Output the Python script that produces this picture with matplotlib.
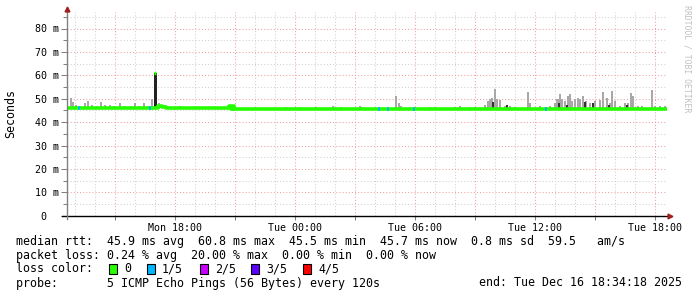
import matplotlib
matplotlib.use('Agg')
import matplotlib.pyplot as plt
from matplotlib.lines import Line2D

# time axis in hours after Mon 12:36 (left edge of the graph)
tick_hours = [5.4, 11.4, 17.4, 23.4, 29.4]
tick_labels = ['Mon 18:00', 'Tue 00:00', 'Tue 06:00', 'Tue 12:00', 'Tue 18:00']

# median rtt (ms), step curve
median_hours = [0.0, 4.35, 4.55, 4.75, 4.95, 8.10, 8.20, 8.28, 8.36, 10.0, 30.0]
median_ms = [46.1, 46.0, 47.0, 46.4, 45.9, 46.9, 45.8, 46.9, 45.8, 45.7, 45.7]

# spike of the median
spike_hour = 4.42
spike_ms = 60.8

# smoke: highest ping per interval (ms)
smoke_hours = [0.20, 0.30, 0.45, 0.65, 0.90, 1.05, 1.25, 1.50, 1.70, 1.90,
               2.15, 2.35, 2.65, 2.90, 3.20, 3.40, 3.60, 3.85, 4.05, 4.25,
               4.60, 4.90, 5.65, 6.15, 8.15, 10.95, 11.65, 12.45, 13.30, 13.70,
               14.65, 14.75, 15.60, 16.45, 16.60, 16.70, 17.15, 18.15, 18.40, 19.35,
               19.65, 20.15, 20.40, 20.90, 21.05, 21.15, 21.25, 21.40, 21.50, 21.65,
               21.90, 22.15, 22.40, 23.05, 23.15, 23.65, 23.90, 24.15, 24.40, 24.50,
               24.55, 24.65, 24.75, 24.90, 25.05, 25.15, 25.25, 25.40, 25.55, 25.65,
               25.80, 25.95, 26.15, 26.40, 26.65, 26.80, 27.00, 27.15, 27.25, 27.40,
               27.65, 27.90, 28.05, 28.20, 28.30, 28.55, 28.75, 29.25, 29.40, 29.65,
               29.90]
smoke_top = [50.5, 48.5, 47.5, 47.0, 48.0, 49.0, 47.5, 47.0, 48.5, 47.5,
             47.5, 47.0, 48.0, 47.0, 47.0, 48.0, 47.0, 48.0, 47.0, 50.0,
             48.0, 47.5, 47.0, 46.5, 47.5, 46.5, 46.5, 46.5, 47.0, 46.5,
             47.0, 46.5, 46.5, 51.0, 48.0, 47.0, 46.5, 46.5, 46.5, 46.5,
             47.0, 46.5, 46.5, 47.5, 49.0, 50.0, 50.5, 54.0, 50.0, 49.5,
             47.0, 47.0, 46.5, 53.0, 48.0, 47.0, 46.5, 47.0, 48.0, 50.0,
             50.0, 52.0, 50.0, 49.0, 51.0, 52.0, 49.0, 50.0, 50.5, 50.0,
             51.0, 49.0, 48.0, 49.0, 49.5, 52.8, 50.5, 48.0, 53.5, 49.0,
             47.0, 48.0, 48.0, 52.5, 51.0, 47.0, 47.0, 53.7, 47.0, 47.0,
             47.0]

# dark smoke near the median
dark_hours = [8.10, 8.30, 21.30, 22.00, 24.60, 25.00, 25.90, 26.30, 27.10, 28.00]
dark_top = [47.5, 47.5, 48.5, 47.5, 48.0, 47.5, 48.5, 48.0, 47.5, 47.5]

# intervals with 1/5 packet loss
loss_hours = [0.60, 4.15, 15.60, 16.05, 17.35, 23.95]

loss_names = ['0', '1/5', '2/5', '3/5', '4/5']
loss_colors = ['#26ff00', '#00b8ff', '#c800ff', '#5e00ff', '#ff0000']

MONO = 'DejaVu Sans Mono'
W, H = 697, 297

fig = plt.figure(figsize=(W / 100, H / 100), dpi=100)
fig.patch.set_facecolor('white')
y0 = 215.7
ymax = 87.0
pxm = 2.34
ax = fig.add_axes([67 / W, (H - y0) / H, 600 / W, ymax * pxm / H])
ax.set_xlim(0, 30)
ax.set_ylim(0, ymax)

# grid
for h in range(31):
    hh = h + 0.4
    if hh > 30:
        continue
    major = (h % 3) == 2
    ax.axvline(hh, color='#f0a0a0' if major else '#d0d0d0',
               lw=0.75, ls=(0, (1, 2)), zorder=0)
for v in range(5, 90, 5):
    major = v % 10 == 0
    ax.axhline(v, color='#f0a0a0' if major else '#d0d0d0',
               lw=0.75, ls=(0, (1, 2)), zorder=0)

# smoke
ax.bar(smoke_hours, [t - 45.6 for t in smoke_top], bottom=45.6, width=0.14,
       color='#a8a8a8', align='center', zorder=2)
ax.bar(dark_hours, [t - 45.6 for t in dark_top], bottom=45.6, width=0.08,
       color='#333333', align='center', zorder=3)
ax.bar([spike_hour], [spike_ms - 46.0], bottom=46.0, width=0.13,
       color='#222222', zorder=3)

# median line
ax.step(median_hours, median_ms, where='post', color=loss_colors[0],
        lw=2.6, zorder=4, solid_capstyle='butt')
ax.plot([spike_hour - 0.05, spike_hour + 0.05], [spike_ms, spike_ms],
        color=loss_colors[0], lw=2.4, zorder=5, solid_capstyle='butt')
for h in loss_hours:
    m = 46.1 if h < 5 else 45.7
    ax.plot([h - 0.07, h + 0.07], [m, m], color=loss_colors[1], lw=2.6,
            zorder=5, solid_capstyle='butt')

# axes
for s in ax.spines.values():
    s.set_visible(False)
ax.set_xticks(tick_hours)
ax.set_xticklabels(tick_labels, fontfamily=MONO, fontsize=7.2)
ax.set_xticks([h + 0.4 for h in range(2, 30, 3)], minor=True)
ax.set_yticks(range(0, 90, 10))
ax.set_yticklabels(['0  '] + ['%d m' % v for v in range(10, 90, 10)],
                   fontfamily=MONO, fontsize=7.2)
ax.set_yticks(range(5, 90, 10), minor=True)
ax.tick_params(axis='both', which='both', length=3, width=0.75, color='#808080',
               labelcolor='black', pad=2)
ax.tick_params(axis='y', which='major', length=4)

fig.add_artist(Line2D([62 / W, 670 / W], [(H - y0) / H] * 2, color='black', lw=1.0))
fig.add_artist(Line2D([67 / W] * 2, [(H - y0 - 3) / H, (H - 11) / H],
                      color='#808080', lw=1.0))
fig.add_artist(Line2D([67 / W], [(H - 9) / H], marker='^', color='#a02020',
                      markersize=3.5, lw=0))
fig.add_artist(Line2D([670 / W], [(H - y0) / H], marker='>', color='#a02020',
                      markersize=3.5, lw=0))

fig.text(11 / W, (H - 113) / H, 'Seconds', rotation=90, ha='center', va='center',
         fontfamily=MONO, fontsize=8.4)
fig.text(687 / W, (H - 5) / H, 'RRDTOOL / TOBI OETIKER', rotation=270,
         ha='center', va='top', fontfamily=MONO, fontsize=5.9, color='#c0c0c0')

fs = 8.4
lines_y = [241, 255, 269, 283]
fig.text(16 / W, (H - lines_y[0]) / H,
         'median rtt:  45.9 ms avg  60.8 ms max  45.5 ms min  45.7 ms now  0.8 ms sd  59.5   am/s',
         fontfamily=MONO, fontsize=fs, va='center')
fig.text(16 / W, (H - lines_y[1]) / H,
         'packet loss: 0.24 % avg  20.00 % max  0.00 % min  0.00 % now',
         fontfamily=MONO, fontsize=fs, va='center')
fig.text(16 / W, (H - lines_y[2]) / H, 'loss color:',
         fontfamily=MONO, fontsize=fs, va='center')
box_x = [109, 147, 200, 251, 303]
for bx, name, col in zip(box_x, loss_names, loss_colors):
    fig.patches.append(plt.Rectangle((bx / W, (H - lines_y[2] - 5) / H), 8 / W, 10 / H,
                                     transform=fig.transFigure, facecolor=col,
                                     edgecolor='black', lw=0.8))
    fig.text((bx + 15) / W, (H - lines_y[2]) / H, name,
             fontfamily=MONO, fontsize=fs, va='center')
fig.text(16 / W, (H - lines_y[3]) / H,
         'probe:       5 ICMP Echo Pings (56 Bytes) every 120s',
         fontfamily=MONO, fontsize=fs, va='center')
fig.text(682 / W, (H - lines_y[3]) / H, 'end: Tue Dec 16 18:34:18 2025',
         fontfamily=MONO, fontsize=fs, va='center', ha='right')

fig.savefig('out.png', dpi=100, facecolor='white')
